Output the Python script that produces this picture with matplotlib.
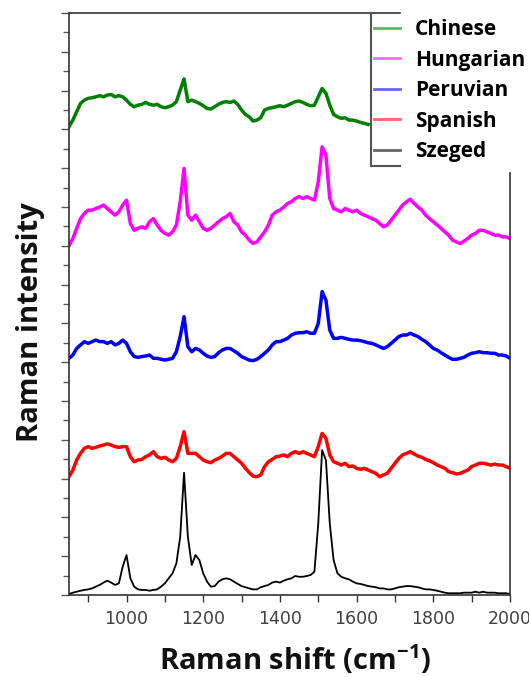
import matplotlib
matplotlib.use('Agg')
import matplotlib.pyplot as plt
import numpy as np
from matplotlib.lines import Line2D
from matplotlib.ticker import MultipleLocator

# Raman shift grid (cm-1), every 10 cm-1
shift = np.arange(850, 2001, 10)

labels = ['Chinese', 'Hungarian', 'Peruvian', 'Spanish', 'Szeged']
colors = ['#008000', '#ff00ff', '#0000ff', '#ff0000', '#000000']
offsets = [24, 18, 12, 6, 0]

# intensities (arbitrary units), Chinese only visible to 1630
chinese = [0.14, 0.48, 0.91, 1.34, 1.51, 1.6, 1.63, 1.68, 1.74, 1.68,
           1.77, 1.8, 1.68, 1.74, 1.68, 1.51, 1.29, 1.17, 1.25, 1.29,
           1.39, 1.29, 1.25, 1.29, 1.17, 1.12, 1.17, 1.25, 1.43, 2.03,
           2.6, 1.43, 1.51, 1.43, 1.34, 1.22, 1.08, 1.05, 1.17, 1.29,
           1.39, 1.43, 1.39, 1.46, 1.29, 1.0, 0.77, 0.65, 0.43, 0.48,
           0.6, 1.0, 1.08, 1.12, 1.17, 1.22, 1.17, 1.25, 1.34, 1.43,
           1.46, 1.39, 1.29, 1.22, 1.25, 1.68, 2.11, 1.86, 1.25, 0.77,
           0.65, 0.57, 0.6, 0.48, 0.48, 0.43, 0.36, 0.31, 0.26]

hungarian = [0.0, 0.38, 0.9, 1.4, 1.67, 1.84, 1.84, 1.92, 2.0, 2.1,
             1.92, 1.75, 1.58, 1.75, 2.1, 2.35, 1.15, 0.8, 0.9, 0.98,
             0.9, 1.24, 1.4, 1.07, 0.8, 0.64, 0.55, 0.72, 1.07, 2.27,
             3.99, 1.58, 1.32, 1.58, 1.24, 0.9, 0.8, 0.9, 1.07, 1.24,
             1.4, 1.5, 1.67, 1.24, 1.07, 0.72, 0.55, 0.29, 0.12, 0.2,
             0.46, 0.72, 1.07, 1.58, 1.75, 1.84, 2.0, 2.18, 2.27, 2.44,
             2.53, 2.44, 2.53, 2.44, 2.35, 3.3, 5.1, 4.67, 2.44, 1.92,
             1.84, 1.75, 1.92, 1.84, 1.75, 1.84, 1.67, 1.58, 1.5, 1.4,
             1.32, 1.15, 0.98, 1.07, 1.32, 1.58, 1.84, 2.1, 2.27, 2.4,
             2.18, 2.0, 1.84, 1.58, 1.4, 1.24, 1.07, 0.9, 0.72, 0.55,
             0.29, 0.2, 0.12, 0.24, 0.38, 0.55, 0.64, 0.8, 0.8, 0.72,
             0.64, 0.55, 0.55, 0.46, 0.46, 0.38]

peruvian = [0.2, 0.37, 0.71, 0.89, 1.06, 0.97, 1.06, 1.14, 1.06, 1.06,
            0.97, 1.06, 0.89, 0.97, 1.14, 0.97, 0.54, 0.29, 0.25, 0.29,
            0.32, 0.37, 0.2, 0.2, 0.15, 0.11, 0.15, 0.2, 0.54, 1.32,
            2.35, 0.8, 0.54, 0.71, 0.63, 0.46, 0.32, 0.25, 0.29, 0.49,
            0.63, 0.71, 0.71, 0.59, 0.46, 0.29, 0.2, 0.11, 0.08, 0.15,
            0.29, 0.46, 0.63, 0.89, 1.06, 1.06, 1.14, 1.23, 1.4, 1.49,
            1.52, 1.52, 1.57, 1.49, 1.49, 2.0, 3.64, 3.2, 1.66, 1.23,
            1.23, 1.28, 1.23, 1.18, 1.14, 1.14, 1.11, 1.06, 1.0, 0.97,
            0.89, 0.8, 0.71, 0.8, 0.97, 1.14, 1.32, 1.4, 1.4, 1.49,
            1.4, 1.32, 1.18, 1.06, 0.89, 0.71, 0.63, 0.49, 0.37, 0.25,
            0.15, 0.15, 0.2, 0.25, 0.37, 0.46, 0.49, 0.54, 0.49, 0.49,
            0.46, 0.46, 0.37, 0.37, 0.32, 0.2]

spanish = [0.1, 0.44, 0.96, 1.3, 1.56, 1.65, 1.56, 1.61, 1.68, 1.73,
           1.79, 1.73, 1.65, 1.61, 1.65, 1.65, 1.13, 0.87, 0.96, 0.99,
           1.13, 1.22, 1.39, 1.13, 1.04, 1.1, 0.96, 0.87, 1.04, 1.65,
           2.42, 1.3, 1.3, 1.3, 1.13, 0.96, 0.87, 0.82, 0.96, 1.04,
           1.16, 1.3, 1.3, 1.13, 0.96, 0.79, 0.53, 0.31, 0.13, 0.1,
           0.19, 0.62, 0.87, 0.99, 1.13, 1.16, 1.22, 1.13, 1.3, 1.39,
           1.3, 1.39, 1.3, 1.22, 1.13, 1.65, 2.33, 2.08, 1.22, 0.87,
           0.79, 0.7, 0.79, 0.62, 0.65, 0.53, 0.48, 0.53, 0.44, 0.36,
           0.27, 0.1, 0.19, 0.27, 0.53, 0.79, 1.04, 1.22, 1.3, 1.39,
           1.27, 1.16, 1.1, 0.99, 0.92, 0.82, 0.7, 0.62, 0.53, 0.36,
           0.31, 0.24, 0.27, 0.36, 0.44, 0.62, 0.7, 0.79, 0.79, 0.75,
           0.7, 0.75, 0.7, 0.7, 0.62, 0.53]

szeged = [0.05, 0.12, 0.17, 0.22, 0.26, 0.29, 0.34, 0.43, 0.52, 0.64,
          0.74, 0.64, 0.52, 0.6, 1.46, 2.06, 0.86, 0.43, 0.29, 0.26,
          0.26, 0.22, 0.26, 0.29, 0.43, 0.6, 0.86, 1.12, 1.63, 3.0,
          6.3, 3.0, 1.55, 2.06, 1.8, 1.12, 0.69, 0.43, 0.46, 0.69,
          0.81, 0.86, 0.81, 0.69, 0.57, 0.46, 0.4, 0.34, 0.29, 0.29,
          0.4, 0.46, 0.52, 0.64, 0.69, 0.64, 0.74, 0.81, 0.86, 0.98,
          0.94, 0.94, 0.98, 1.03, 1.2, 3.69, 7.47, 6.96, 3.69, 1.8,
          1.12, 0.94, 0.86, 0.81, 0.69, 0.6, 0.57, 0.52, 0.46, 0.43,
          0.4, 0.34, 0.34, 0.29, 0.29, 0.34, 0.4, 0.43, 0.46, 0.46,
          0.43, 0.4, 0.34, 0.29, 0.29, 0.26, 0.22, 0.17, 0.12, 0.09,
          0.09, 0.09, 0.09, 0.12, 0.12, 0.12, 0.17, 0.12, 0.17, 0.12,
          0.12, 0.12, 0.09, 0.09, 0.09, 0.05]

spectra = [chinese, hungarian, peruvian, spanish, szeged]

plt.rcParams['mathtext.fontset'] = 'custom'
plt.rcParams['mathtext.rm'] = 'Open Sans'
plt.rcParams['mathtext.bf'] = 'Open Sans:bold'

W, H = 529, 677
fig = plt.figure(figsize=(W / 100, H / 100), dpi=100)
ax = fig.add_axes([69 / W, (H - 595) / H, 441 / W, 582 / H])

for lab, col, off, y in zip(labels, colors, offsets, spectra):
    y = np.array(y)
    lw = 1.3 if lab == 'Szeged' else 2.5
    ax.plot(shift[:len(y)], y + off, color=col, lw=lw)

ax.set_xlim(850, 2000)
ax.set_ylim(0, 30)
ax.xaxis.set_major_locator(MultipleLocator(200))
ax.xaxis.set_minor_locator(MultipleLocator(100))
ax.yaxis.set_major_locator(MultipleLocator(2))
ax.yaxis.set_minor_locator(MultipleLocator(1))
ax.set_yticklabels([])
ax.tick_params(axis='x', which='both', direction='out', length=5, width=1,
               color='#333333', labelcolor='#404040', labelsize=12.5, pad=6)
ax.tick_params(axis='y', which='major', direction='out', length=6, width=1, color='#555555')
ax.tick_params(axis='y', which='minor', direction='out', length=4, width=1, color='#555555')
for s in ['top', 'right']:
    ax.spines[s].set_visible(False)
for s in ['left', 'bottom']:
    ax.spines[s].set_color('#333333')
    ax.spines[s].set_linewidth(1.2)


def fline(x0, y0, x1, y1, col='#333333', lw=1.2):
    fig.add_artist(Line2D([x0 / W, x1 / W], [1 - y0 / H, 1 - y1 / H],
                          transform=fig.transFigure, color=col, lw=lw))


# partial frame: top spine and right spine hidden behind legend box
fline(69, 13, 400, 13)
fline(510, 173, 510, 595)
fline(371, 13, 371, 166, col='#555555', lw=1.5)
fline(371, 166, 400, 166, col='#555555', lw=1.5)

handles = [Line2D([], [], color=c, lw=2, alpha=0.6) for c in colors]
fig.legend(handles, labels, loc='upper left', bbox_to_anchor=(374 / W, 1 - 19 / H),
           frameon=False, prop=dict(family='Open Sans', weight='bold', size=15),
           handlelength=1.25, handletextpad=0.72, labelspacing=0.46,
           borderpad=0, borderaxespad=0)

fig.text(295 / W, 1 - 660 / H, r'Raman shift (cm$^{\mathbf{-1}}$)', ha='center', va='center',
         fontsize=21, fontweight='bold', family='Open Sans', color='#111111')
fig.text(31 / W, 1 - 322 / H, 'Raman intensity', rotation=90, ha='center', va='center',
         fontsize=21, fontweight='bold', family='Open Sans', color='#111111')

fig.savefig('out.png', dpi=100)
